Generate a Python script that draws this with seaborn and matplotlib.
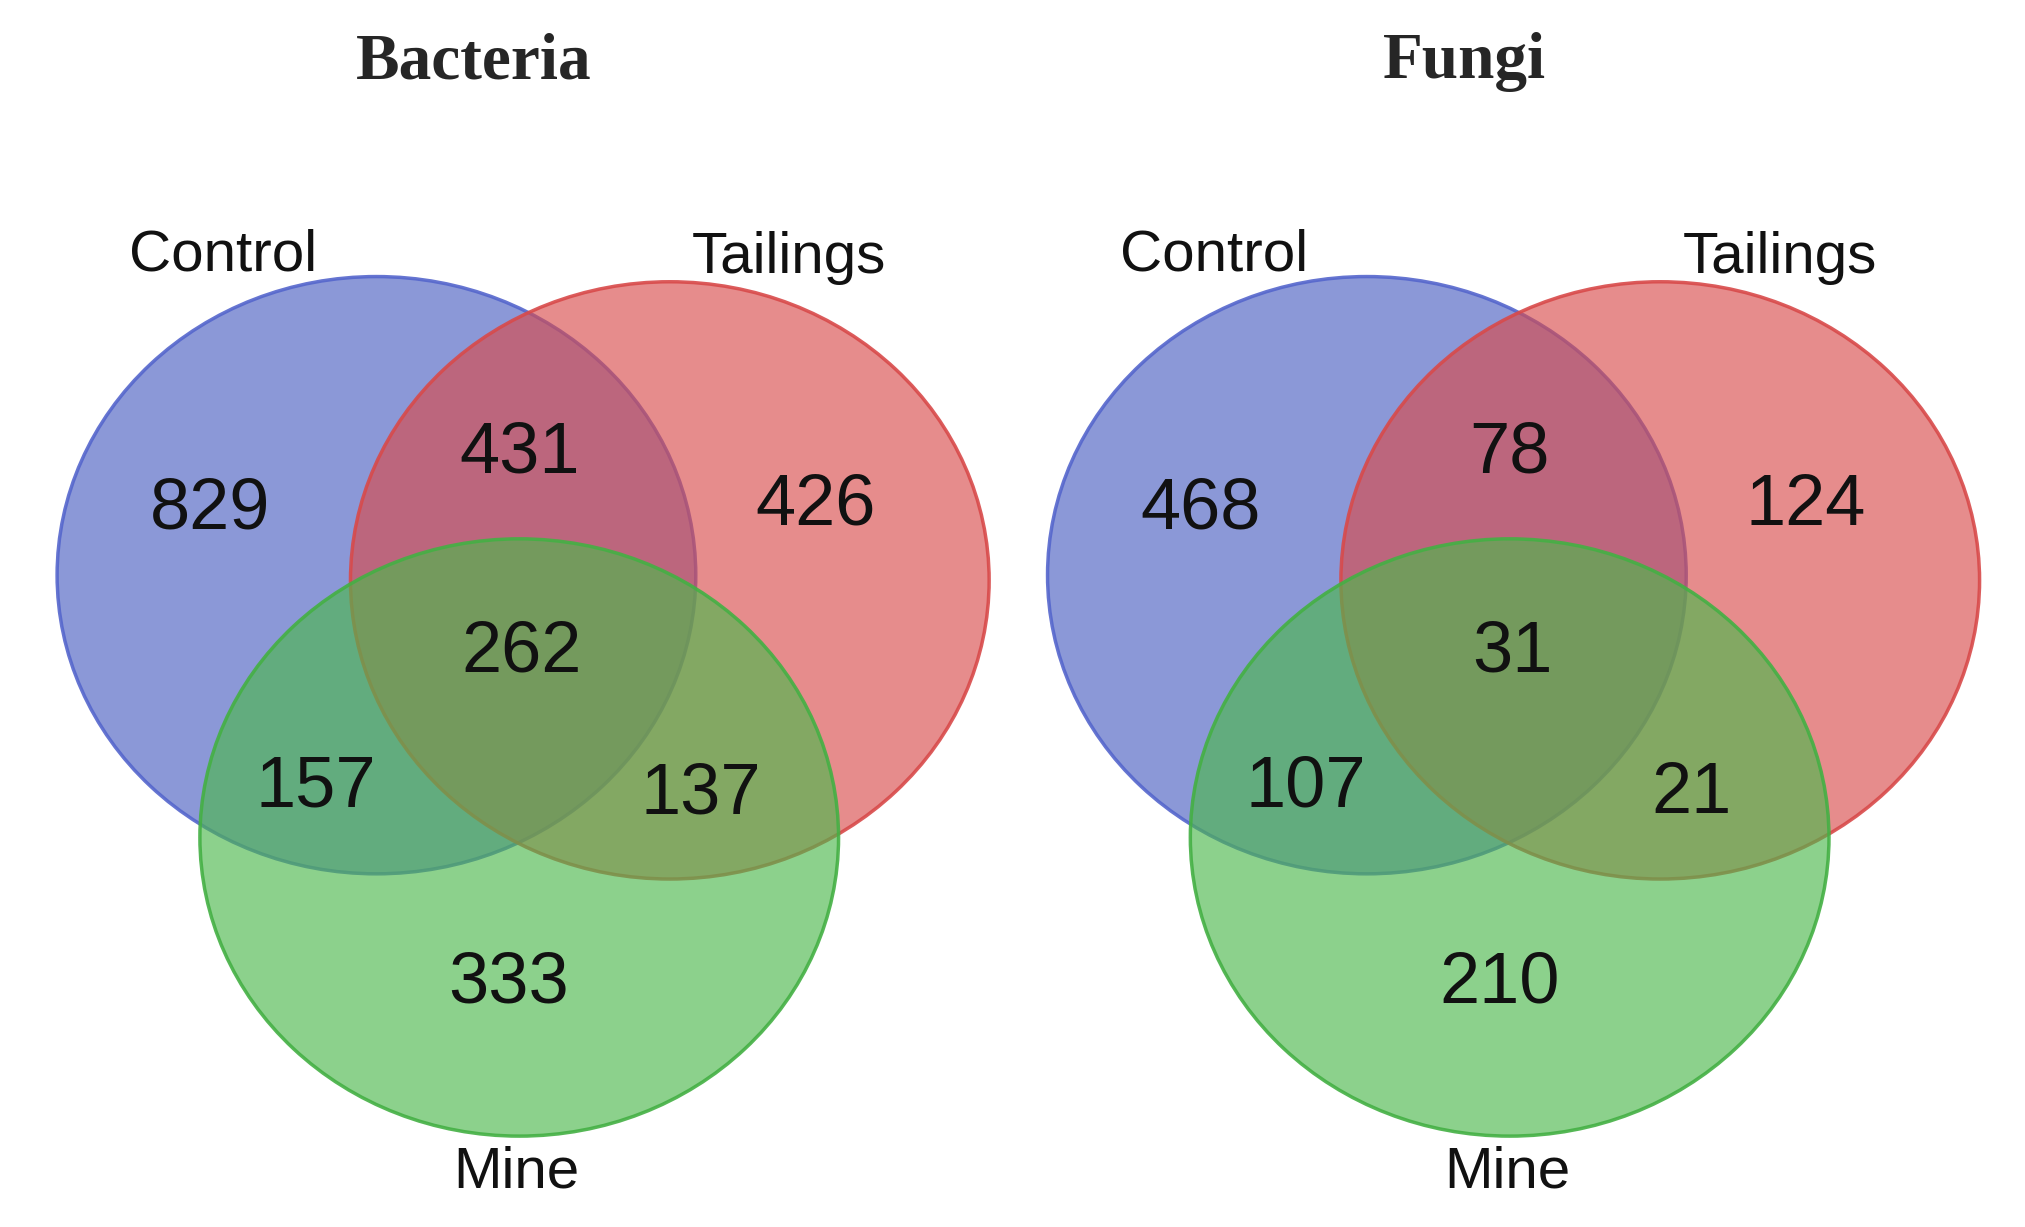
import matplotlib
matplotlib.use("Agg")
import matplotlib.pyplot as plt
import seaborn as sns
from matplotlib.patches import Ellipse

sns.set_style("white")

titles = ["Bacteria", "Fungi"]
sets = ["Control", "Tailings", "Mine"]
bacteria = [829, 426, 333, 431, 157, 137, 262]  # C, T, M, CT, CM, TM, CTM
fungi = [468, 124, 210, 78, 107, 21, 31]
counts = [bacteria, fungi]

fills = ["#4a5fc1", "#d94b4b", "#4cb84c"]
edges = ["#5566cc", "#d84a4a", "#44b044"]

fig = plt.figure(figsize=(20.25, 12.27), dpi=100)
ax = fig.add_axes([0, 0, 1, 1])
ax.set_xlim(0, 1560)
ax.set_ylim(945, 0)
ax.axis("off")

# ellipse centres relative to panel, and label spots
centres = [(290, 443), (516, 447), (400, 645)]
num_pos = [(162, 393), (628, 390), (392, 758), (400, 350), (243, 607), (540, 612), (402, 503)]
lab_pos = [(172, 197), (608, 199), (398, 903)]

for p, (title, vals) in enumerate(zip(titles, counts)):
    dx = p * 763
    ax.text(365 + dx, 48, title, ha="center", va="center", fontsize=47,
            fontweight="bold", family="Liberation Serif")
    for (cx, cy), fc, ec in zip(centres, fills, edges):
        ax.add_patch(Ellipse((cx + dx, cy), 492, 460, facecolor=fc, alpha=0.64,
                             edgecolor="none"))
        ax.add_patch(Ellipse((cx + dx, cy), 492, 460, facecolor="none",
                             edgecolor=ec, lw=2.5, alpha=0.9))
    for (x, y), v in zip(num_pos, vals):
        ax.text(x + dx, y, str(v), ha="center", va="center", fontsize=52,
                family="Liberation Sans", color="#111111")
    for (x, y), s in zip(lab_pos, sets):
        ax.text(x + dx, y, s, ha="center", va="center", fontsize=42,
                family="Liberation Sans", color="#111111")

plt.savefig("out.png", dpi=100, facecolor="white")
